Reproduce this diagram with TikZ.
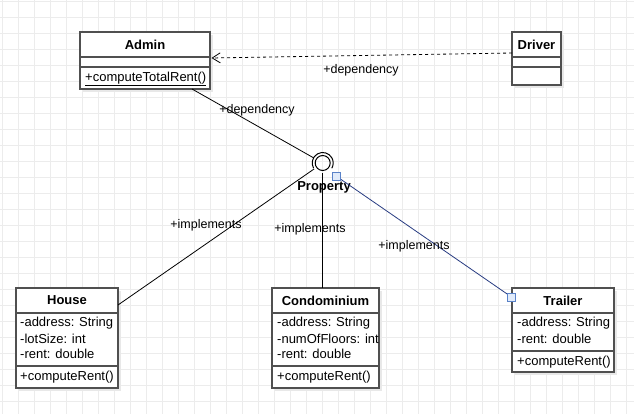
\documentclass[tikz,border=0pt]{standalone}
\usepackage{fontspec}
\setmainfont{Liberation Sans}
\usetikzlibrary{arrows.meta}
\definecolor{boxgray}{RGB}{80,80,80}
\definecolor{gridc}{RGB}{236,236,236}
\definecolor{navyline}{RGB}{40,60,130}
\definecolor{selblue}{RGB}{90,130,200}
\definecolor{selfill}{RGB}{225,235,250}
\tikzset{
  classbox/.style={draw=boxgray, line width=1.4pt, fill=white, anchor=north west, inner sep=0pt, outer sep=0pt},
  shadowbox/.style={fill=black!9, draw=none},
  sepline/.style={draw=boxgray, line width=1.4pt},
  title/.style={font=\fontsize{13}{15}\selectfont\bfseries, inner sep=0pt},
  member/.style={font=\fontsize{13}{15}\selectfont, inner sep=0pt, anchor=west},
  lbl/.style={font=\fontsize{12.5}{15}\selectfont, inner sep=0pt},
  conn/.style={draw=black, line width=0.8pt},
  handle/.style={draw=selblue, fill=selfill, line width=0.8pt, minimum size=8pt, inner sep=0pt, outer sep=0pt}
}
\begin{document}
\begin{tikzpicture}[x=1pt,y=-1pt]
\useasboundingbox (0,0) rectangle (634,414);
\fill[white] (0,0) rectangle (634,414);
% grid
\foreach \gx in {2,18,...,634} {\draw[gridc, line width=0.6pt] (\gx,0) -- (\gx,414);}
\foreach \gy in {1,17,...,414} {\draw[gridc, line width=0.6pt] (0,\gy) -- (634,\gy);}

% shadows
\fill[shadowbox] (83,35) rectangle (213,92);
\fill[shadowbox] (515,35) rectangle (564,88);
\fill[shadowbox] (19,291) rectangle (121,391);
\fill[shadowbox] (275,291) rectangle (382,391);
\fill[shadowbox] (515,291) rectangle (617,375);

% Admin
\node[classbox, minimum width=130pt, minimum height=57pt] (admin) at (80,32) {};
\draw[sepline] (80,57) -- (210,57);
\draw[sepline] (80,67) -- (210,67);
\node[title] (admint) at (145,45) {Admin};
\node[member] (adminm) at (85,79) {\underline{+computeTotalRent()}};

% Driver
\node[classbox, minimum width=49pt, minimum height=53pt] (driver) at (512,32) {};
\draw[sepline] (512,57) -- (561,57);
\draw[sepline] (512,67) -- (561,67);
\node[title] (drivert) at (536.5,44.5) {Driver};

% House
\node[classbox, minimum width=102pt, minimum height=100pt] (house) at (16,288) {};
\draw[sepline] (16,313) -- (118,313);
\draw[sepline] (16,366) -- (118,366);
\node[title] (houset) at (67,300.5) {House};
\node[member] (housea1) at (20,323.5) {-address: String};
\node[member] (housea2) at (20,338.5) {-lotSize: int};
\node[member] (housea3) at (20,353.5) {-rent: double};
\node[member] (housem) at (20,377.5) {+computeRent()};

% Condominium
\node[classbox, minimum width=107pt, minimum height=100pt] (condo) at (272,288) {};
\draw[sepline] (272,313) -- (379,313);
\draw[sepline] (272,366) -- (379,366);
\node[title] (condot) at (325.5,300.5) {Condominium};
\node[member] (condoa1) at (277,323.5) {-address: String};
\node[member] (condoa2) at (277,338.5) {-numOfFloors: int};
\node[member] (condoa3) at (277,353.5) {-rent: double};
\node[member] (condom) at (277,377.5) {+computeRent()};

% Trailer
\node[classbox, minimum width=102pt, minimum height=84pt] (trailer) at (512,288) {};
\draw[sepline] (512,313) -- (614,313);
\draw[sepline] (512,351) -- (614,351);
\node[title] (trailert) at (563,300.5) {Trailer};
\node[member] (trailera1) at (517,323.5) {-address: String};
\node[member] (trailera2) at (517,338.5) {-rent: double};
\node[member] (trailerm) at (517,362.5) {+computeRent()};

% Interface lollipop
\node[circle, minimum size=21pt, inner sep=0pt, outer sep=0pt] (prop) at (322.7,163) {};
\draw[black, line width=1pt] (prop.center) circle (7.5);
\draw[black, line width=1pt] ([shift={(150:10.5)}]prop.center) arc (150:390:10.5);
\node[title] (propt) at (324,187.5) {Property};

% connectors
\coordinate (adminout) at (192,89);
\draw[conn] (adminout) -- (prop);
\coordinate (houseout) at (118,305);
\draw[conn] (houseout) -- (prop);
\draw[conn] (prop) -- (prop |- condo.north);
\node[handle] (sqa) at (336,176) {};
\node[handle] (sqb) at (511.5,297) {};
\draw[navyline, line width=0.8pt] (sqa) -- (sqb);
\node[handle] at (336,176) {};
\node[handle] at (511.5,297) {};

\coordinate (drvout) at (512,53);
\coordinate (admin in) at (211.5,58);
\draw[conn, dash pattern=on 3pt off 3pt, -{Straight Barb[length=8pt,width=10pt,line width=0.8pt]}] (drvout) -- (admin in);

% labels
\node[lbl] (l1) at (361,70) {+dependency};
\node[lbl] (l2) at (257,110) {+dependency};
\node[lbl] (l3) at (206,225.5) {+implements};
\node[lbl] (l4) at (310,229.5) {+implements};
\node[lbl] (l5) at (414,246.5) {+implements};
\end{tikzpicture}
\end{document}
